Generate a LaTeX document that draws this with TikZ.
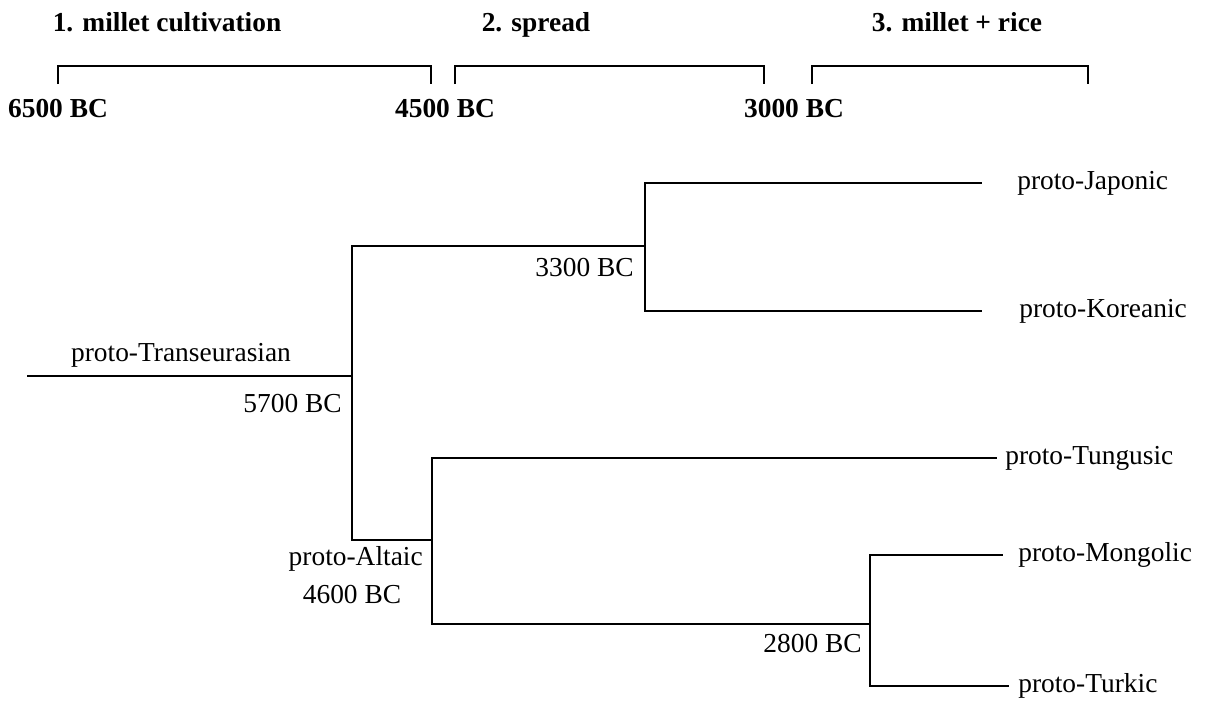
\documentclass[tikz,border=0pt]{standalone}
\usepackage{fontspec}
\setmainfont{Liberation Serif}
\usetikzlibrary{positioning}

\begin{document}
\begin{tikzpicture}[
    x=0.025cm, y=-0.025cm,
    branch/.style={draw, line width=1pt},
    bracket/.style={draw, line width=1.7pt},
    phase/.style={font=\fontsize{19.5}{23}\selectfont\bfseries, anchor=base, inner sep=0pt},
    era/.style={font=\fontsize{19.5}{23}\selectfont\bfseries, anchor=base, inner sep=0pt},
    lang/.style={font=\fontsize{19.5}{23}\selectfont, anchor=west, inner ysep=0pt},
    date/.style={font=\fontsize{19.5}{23}\selectfont, anchor=base east, inner sep=0pt}
]
    \useasboundingbox (0,0) rectangle (1205,704);

    % Time line: phases and brackets
    \node[phase] (cult) at (167,31) {1. millet cultivation};
    \node[phase] (spread) at (536,31) {2. spread};
    \node[phase] (rice) at (957,31) {3. millet + rice};
    \foreach \a/\b in {58/431, 455/764, 812/1088}
        \draw[bracket] (\a,84) |- (\b,66) -- (\b,84);
    \node[era] (t6500) at (58,117) {6500 BC};
    \node[era] (t4500) at (445,117) {4500 BC};
    \node[era] (t3000) at (794,117) {3000 BC};

    % Junctions of the tree
    \coordinate (root) at (27,376);
    \coordinate (trans) at (352,376);
    \coordinate (jk) at (645,246);
    \coordinate (altaic) at (432,540);
    \coordinate (mt) at (870,624);

    % Languages
    \node[lang, inner xsep=0.875cm] (jap) at (982,183) {proto-Japonic};
    \node[lang, inner xsep=0.925cm] (kor) at (982,311) {proto-Koreanic};
    \node[lang, inner xsep=0.2cm] (tun) at (997,458) {proto-Tungusic};
    \node[lang, inner xsep=0.375cm] (mon) at (1003,555) {proto-Mongolic};
    \node[lang, inner xsep=0.225cm] (tur) at (1009,686) {proto-Turkic};

    % Branches
    \draw[branch] (root) -- (trans);
    \draw[branch] (trans) |- (jk);
    \draw[branch] (trans) |- (altaic);
    \draw[branch] (jk) |- (jap);
    \draw[branch] (jk) |- (kor);
    \draw[branch] (altaic) |- (tun);
    \draw[branch] (altaic) |- (mt);
    \draw[branch] (mt) |- (mon);
    \draw[branch] (mt) |- (tur);

    % Labels at the junctions
    \node[date, anchor=base] (transname) at (181,361) {proto-Transeurasian};
    \node[date] (d5700) at (342,412) {5700 BC};
    \node[date] (d3300) at (634,276) {3300 BC};
    \node[date] (altname) at (423,565) {proto-Altaic};
    \node[date, anchor=base] (d4600) at (352,603) {4600 BC};
    \node[date] (d2800) at (862,652) {2800 BC};
\end{tikzpicture}
\end{document}
